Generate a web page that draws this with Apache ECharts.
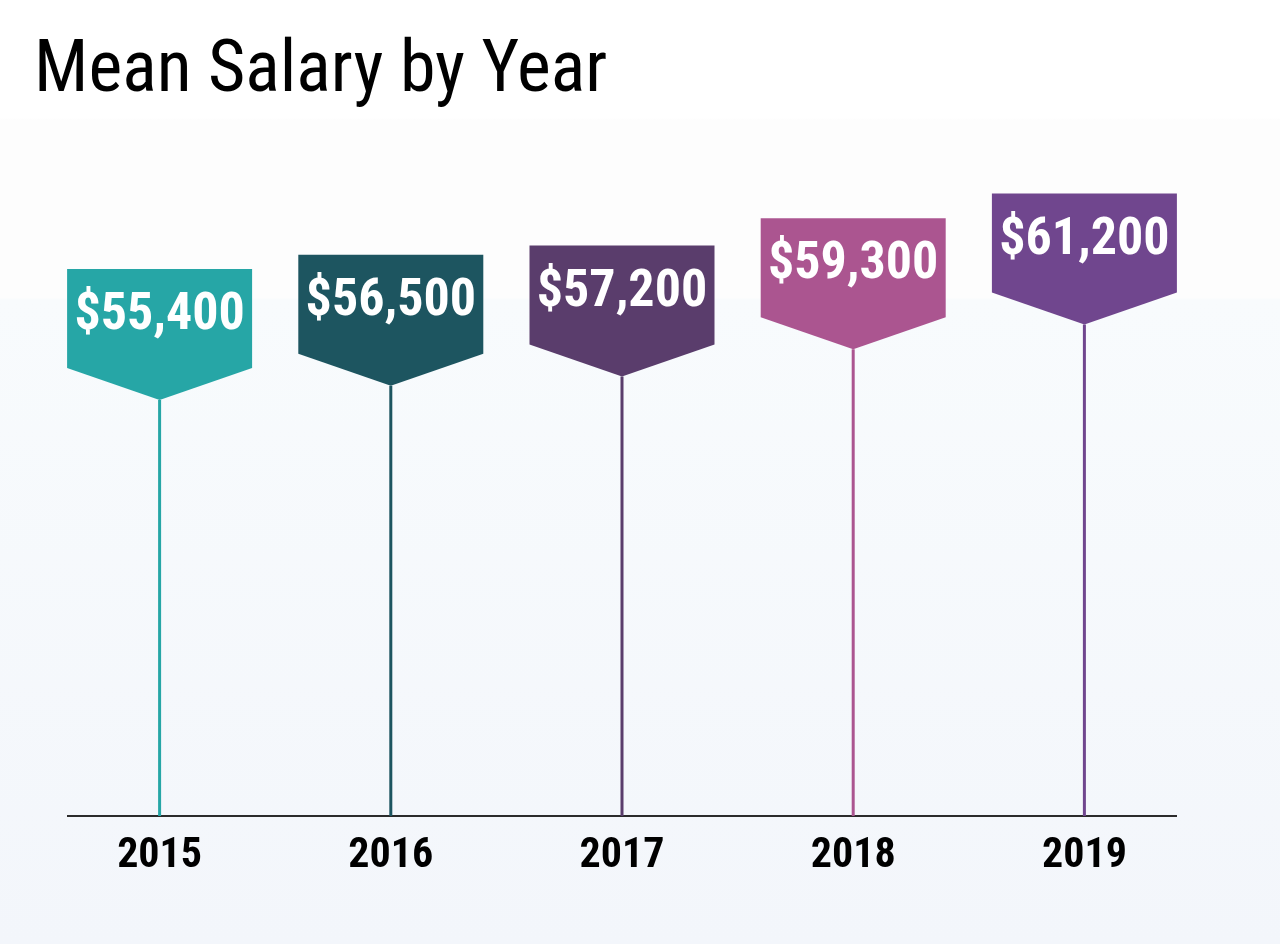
<!DOCTYPE html>
<html>
<head>
<meta charset="utf-8">
<title>Mean Salary by Year</title>
<script src="https://cdn.jsdelivr.net/npm/echarts@6/dist/echarts.min.js"></script>
<style>
  html, body { margin: 0; padding: 0; }
  #main { width: 1280px; height: 944px; }
</style>
</head>
<body>
<div id="main"></div>
<script>
'use strict'

// data
const years = ['2015', '2016', '2017', '2018', '2019'];
const salaries = [55400, 56500, 57200, 59300, 61200];
const pinColors = ['#26a6a6', '#1d5560', '#5a3d6c', '#ab5590', '#70468e'];

const condensed = "'Roboto Condensed', 'Liberation Sans Narrow', 'DejaVu Sans Condensed', 'Arial Narrow', sans-serif";

// flag shape: box with a pointed bottom
const flagPath = 'path://M0,0 L185,0 L185,99 L92.5,131 L0,99 Z';

let myChart = echarts.init(document.getElementById('main'));

myChart.setOption({
    animation: false,
    backgroundColor: {
        type: 'linear', x: 0, y: 0, x2: 0, y2: 1,
        colorStops: [
            { offset: 0, color: '#ffffff' },
            { offset: 0.125, color: '#ffffff' },
            { offset: 0.127, color: '#fdfdfd' },
            { offset: 0.315, color: '#fdfdfd' },
            { offset: 0.318, color: '#f8fbfd' },
            { offset: 1, color: '#f3f6fb' }
        ]
    },
    title: {
        text: 'Mean Salary by Year',
        left: 29,
        top: 32,
        textStyle: {
            fontFamily: condensed,
            fontWeight: 'normal',
            fontSize: 72,
            color: '#000'
        }
    },
    grid: {
        left: 44,
        right: 80,
        top: 140,
        bottom: 128
    },
    xAxis: {
        type: 'category',
        data: years,
        axisLine: { show: false },
        axisTick: { show: false },
        axisLabel: {
            margin: 19,
            fontFamily: condensed,
            fontWeight: 'bold',
            fontSize: 42,
            color: '#000'
        }
    },
    yAxis: {
        type: 'value',
        min: 23400,
        max: 75400,
        show: false
    },
    graphic: [{
        type: 'line',
        shape: { x1: 67, y1: 816, x2: 1177, y2: 816 },
        style: { stroke: '#2b2b2b', lineWidth: 2 },
        z: 1
    }],
    series: [{
        // stems
        type: 'bar',
        barWidth: 3,
        z: 2,
        data: salaries.map((v, i) => ({
            value: v,
            itemStyle: { color: pinColors[i] }
        }))
    }, {
        // flags
        type: 'pictorialBar',
        symbol: flagPath,
        symbolSize: [185, 131],
        symbolPosition: 'end',
        symbolOffset: [0, '-100%'],
        z: 3,
        barGap: '-100%',
        data: salaries.map((v, i) => ({
            value: v,
            itemStyle: { color: pinColors[i] }
        })),
        label: {
            show: true,
            position: 'insideTop',
            distance: 47,
            verticalAlign: 'middle',
            formatter: p => '$' + p.value.toLocaleString('en-US'),
            fontFamily: condensed,
            fontWeight: 'bold',
            fontSize: 52,
            color: '#fff'
        },
        labelLayout: { hideOverlap: false }
    }]
});
</script>
</body>
</html>
